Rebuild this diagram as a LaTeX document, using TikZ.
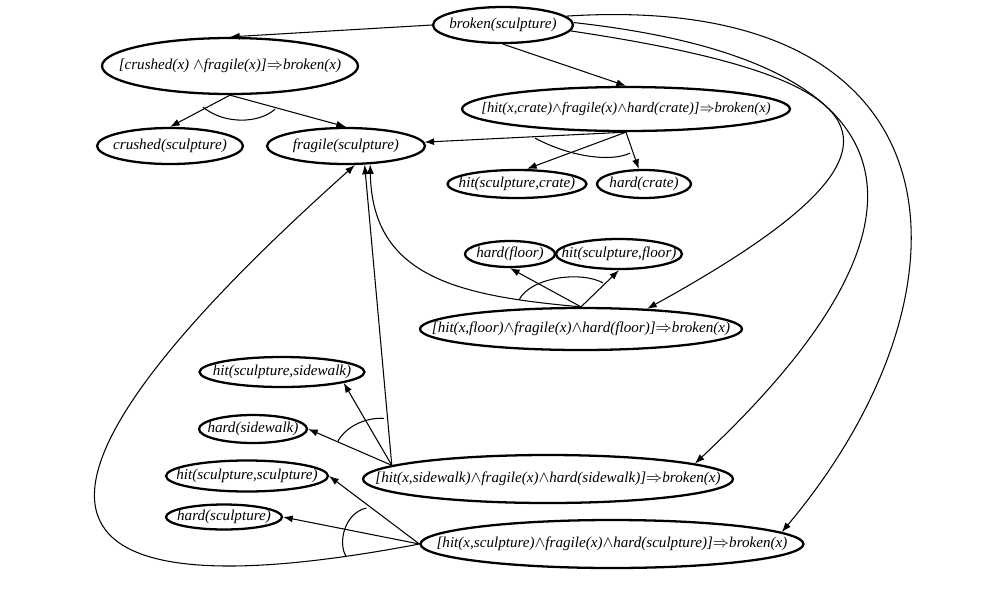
\documentclass[tikz,border=0pt]{standalone}
\usepackage{fontspec}
\setmainfont{Liberation Serif}
\usetikzlibrary{arrows.meta, calc, shapes.geometric}
\newcommand{\fact}[1]{\makebox[0pt]{#1}}
\newcommand{\conj}{$\wedge$}
\newcommand{\impl}{$\Rightarrow$}

\begin{document}
\begin{tikzpicture}[x=0.02cm, y=-0.02cm,
  prop/.style={ellipse, draw, line width=1.3pt, inner sep=0pt, font=\itshape\fontsize{8.6}{10}\selectfont},
  link/.style={-{Latex[length=5.5pt,width=4pt]}, line width=0.6pt},
  andarc/.style={line width=0.6pt}]
  \useasboundingbox (0,0) rectangle (995,593);
  % goal and rules
  \node[prop, minimum width=2.8cm, minimum height=0.72cm] (broken) at (503,25) {\fact{broken(sculpture)}};
  \node[prop, minimum width=5.12cm, minimum height=1.12cm] (crushedRule) at (230,66) {\fact{[crushed(x) \conj{}fragile(x)]\impl{}broken(x)}};
  \node[prop, minimum width=6.56cm, minimum height=0.88cm, font=\itshape\fontsize{8.3}{10}\selectfont] (crateRule) at (626,109) {\fact{[hit(x,crate)\conj{}fragile(x)\conj{}hard(crate)]\impl{}broken(x)}};
  \node[prop, minimum width=6.44cm, minimum height=0.84cm] (floorRule) at (581,329) {\fact{[hit(x,floor)\conj{}fragile(x)\conj{}hard(floor)]\impl{}broken(x)}};
  \node[prop, minimum width=7.4cm, minimum height=0.96cm] (sidewalkRule) at (548,479) {\fact{[hit(x,sidewalk)\conj{}fragile(x)\conj{}hard(sidewalk)]\impl{}broken(x)}};
  \node[prop, minimum width=7.66cm, minimum height=0.96cm] (sculptureRule) at (612,544) {\fact{[hit(x,sculpture)\conj{}fragile(x)\conj{}hard(sculpture)]\impl{}broken(x)}};
  % facts
  \node[prop, minimum width=2.92cm, minimum height=0.72cm] (crushed) at (170,146) {\fact{crushed(sculpture)}};
  \node[prop, minimum width=3.16cm, minimum height=0.72cm] (fragile) at (346,146) {\fact{fragile(sculpture)}};
  \node[prop, minimum width=2.78cm, minimum height=0.56cm] (hitCrate) at (517,184) {\fact{hit(sculpture,crate)}};
  \node[prop, minimum width=1.88cm, minimum height=0.56cm] (hardCrate) at (644,184) {\fact{hard(crate)}};
  \node[prop, minimum width=1.8cm, minimum height=0.52cm] (hardFloor) at (510,254) {\fact{hard(floor)}};
  \node[prop, minimum width=2.52cm, minimum height=0.6cm] (hitFloor) at (619,254) {\fact{hit(sculpture,floor)}};
  \node[prop, minimum width=3.3cm, minimum height=0.6cm] (hitSidewalk) at (282,372) {\fact{hit(sculpture,sidewalk)}};
  \node[prop, minimum width=2.16cm, minimum height=0.56cm] (hardSidewalk) at (253,429) {\fact{hard(sidewalk)}};
  \node[prop, minimum width=3.24cm, minimum height=0.62cm] (hitSculpture) at (247,476) {\fact{hit(sculpture,sculpture)}};
  \node[prop, minimum width=2.32cm, minimum height=0.5cm] (hardSculpture) at (224,517) {\fact{hard(sculpture)}};

  % goal to rules
  \draw[link] (broken.west) -- (crushedRule.north);
  \draw[link] (broken.south) -- (crateRule.north);
  \draw[link] (broken.-5) .. controls (900,80) and (935,150) .. (floorRule.17);
  \draw[link] (broken.2) .. controls (923,61) and (955,220) .. (sidewalkRule.6);
  \draw[link] (broken.8) .. controls (970,-10) and (985,290) .. (sculptureRule.4);

  % rules to their premises
  \draw[link] (crushedRule.south) -- (crushed.north);
  \draw[link] (crushedRule.south) -- (fragile.north);
  \draw[andarc] ($(crushedRule.south)+(-27,12)$) .. controls ($(crushedRule.south)+(-5,30)$) and ($(crushedRule.south)+(30,28)$) .. ($(crushedRule.south)+(45,14)$);

  \draw[link] (crateRule.south) -- (fragile);
  \draw[link] (crateRule.south) -- ($(hitCrate.north)+(10,0)$);
  \draw[link] (crateRule.south) -- (hardCrate);
  \draw[andarc] ($(crateRule.south)+(-91,6)$) .. controls ($(crateRule.south)+(-55,25)$) and ($(crateRule.south)+(-15,30)$) .. ($(crateRule.south)+(4,21)$);

  \draw[link] (floorRule.north) .. controls (460,296) and (372,278) .. (fragile.-37);
  \draw[link] (floorRule.north) -- (hardFloor.south);
  \draw[link] (floorRule.north) -- (hitFloor.south);
  \draw[andarc] ($(floorRule.north)+(-62,-7)$) .. controls ($(floorRule.north)+(-50,-30)$) and ($(floorRule.north)+(0,-36)$) .. ($(floorRule.north)+(22,-24)$);

  \draw[link] (sidewalkRule.175) -- (fragile.-45);
  \draw[link] (sidewalkRule.175) -- (hitSidewalk.-10);
  \draw[link] (sidewalkRule.175) -- (hardSidewalk.east);
  \draw[andarc] ($(sidewalkRule.175)+(-8,-47)$) .. controls ($(sidewalkRule.175)+(-25,-48)$) and ($(sidewalkRule.175)+(-45,-40)$) .. ($(sidewalkRule.175)+(-54,-24)$);

  \draw[link] (sculptureRule.west) .. controls (20,620) and (-20,500) .. (fragile.-65);
  \draw[link] (sculptureRule.west) -- (hitSculpture.east);
  \draw[link] (sculptureRule.west) -- (hardSculpture.east);
  \draw[andarc] ($(sculptureRule.west)+(-53,-36)$) .. controls ($(sculptureRule.west)+(-75,-31)$) and ($(sculptureRule.west)+(-82,-1)$) .. ($(sculptureRule.west)+(-73,13)$);
\end{tikzpicture}
\end{document}
